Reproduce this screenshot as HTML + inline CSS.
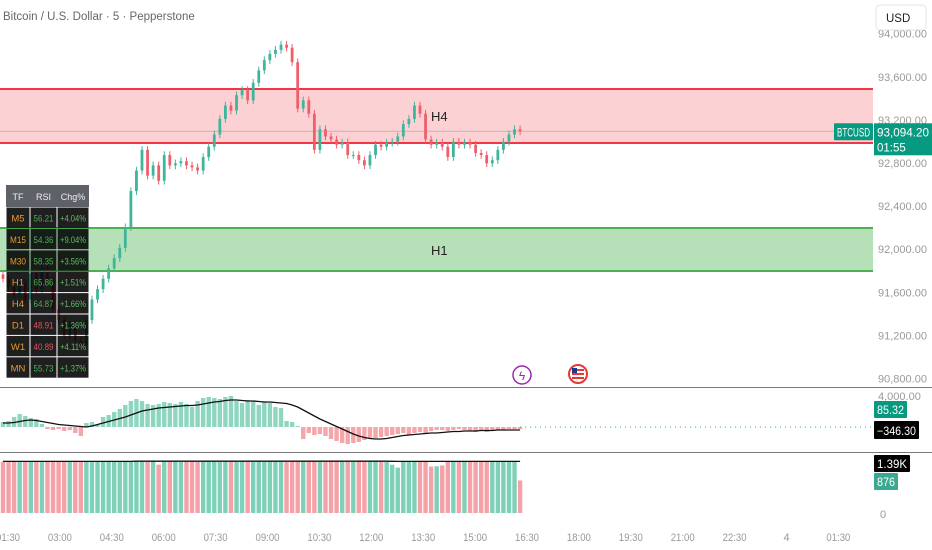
<!DOCTYPE html>
<html><head><meta charset="utf-8">
<style>
html,body{margin:0;padding:0;background:#fff;}
body{width:932px;height:550px;overflow:hidden;position:relative;font-family:"Liberation Sans",sans-serif;}
svg{position:absolute;left:0;top:0;}
</style></head>
<body>
<svg id="chart" width="932" height="550">
  <rect x="0" y="0" width="932" height="550" fill="#ffffff"/>
  <g id="zones"></g>
  <g id="candles"></g>
  <g id="macd"></g>
  <g id="volume"></g>
  <g id="axes"></g>
</svg>
<script>
const closes=[91726,91649,91582,91687,91534,91774,91630,91822,91726,91439,
91343,91199,91295,91151,91113,91343,91534,91630,91726,91822,
91917,92013,92204,92539,92730,92922,92683,92778,92635,92874,
92778,92797,92817,92778,92759,92730,92855,92951,93065,93209,
93333,93286,93429,93477,93381,93544,93659,93754,93812,93850,
93898,93869,93735,93305,93381,93257,92922,93113,93046,93018,
92970,92989,92874,92874,92826,92778,92874,92970,92951,92989,
92998,93046,93161,93209,93333,93257,93018,92970,92989,92951,
92855,92998,92970,92989,92970,92893,92874,92797,92826,92922,
92998,93065,93113,93094];
const macdHist=[50,60,100,130,110,90,80,30,-20,-30,
-20,-40,-30,-60,-90,40,50,20,100,120,
150,180,220,260,280,260,230,220,230,250,
240,230,250,230,200,260,290,300,290,280,
300,310,260,240,270,260,220,250,240,200,
190,60,50,10,-120,-60,-80,-70,-90,-120,
-140,-160,-170,-160,-150,-130,-120,-110,-100,-90,
-80,-70,-60,-80,-60,-50,-70,-40,-30,-30,
-40,-30,-20,-30,-40,-50,-40,-50,-40,-30,
-30,-20,-20,-20];
const macdSignal=[40,40,45,55,65,70,65,55,45,35,
25,20,15,10,5,0,10,25,40,55,
70,85,100,120,140,160,170,180,190,195,
200,205,210,215,215,220,230,240,250,255,
265,270,270,265,260,260,255,250,250,245,
240,235,220,200,170,140,110,80,55,30,
5,-20,-45,-70,-90,-105,-115,-120,-120,-115,
-105,-95,-85,-80,-75,-70,-65,-60,-60,-55,
-50,-45,-45,-40,-40,-40,-35,-35,-35,-30,
-30,-30,-30,-30];
const volumes=[1380,1370,1390,1385,1375,1390,1380,1370,1390,1385,
1380,1390,1375,1385,1390,1380,1370,1385,1390,1380,
1385,1390,1380,1375,1390,1385,1380,1390,1300,1385,
1380,1390,1375,1385,1390,1380,1385,1390,1380,1375,
1390,1385,1380,1390,1385,1375,1390,1380,1385,1390,
1380,1375,1385,1390,1380,1385,1390,1380,1375,1385,
1390,1380,1385,1375,1390,1380,1385,1390,1380,1375,
1300,1220,1380,1385,1390,1380,1380,1250,1260,1280,
1385,1390,1380,1375,1385,1390,1380,1385,1390,1380,
1385,1390,1380,876];
const volMA=[1390,1390,1390,1390,1390,1390,1390,1390,1390,1390,
1390,1390,1390,1390,1390,1390,1390,1390,1390,1390,
1390,1390,1390,1390,1395,1395,1395,1395,1395,1395,
1395,1395,1395,1395,1395,1395,1395,1395,1395,1395,
1395,1395,1395,1395,1395,1395,1395,1395,1395,1395,
1395,1395,1395,1395,1395,1395,1395,1395,1395,1395,
1395,1395,1395,1395,1395,1395,1395,1395,1395,1395,
1392,1390,1390,1390,1390,1390,1390,1390,1390,1390,
1390,1390,1390,1390,1390,1390,1390,1390,1390,1390,
1390,1390,1390,1390];
const priceTicks=[94000,93600,93200,92800,92400,92000,91600,91200,90800];
const timeLabels=["01:30","03:00","04:30","06:00","07:30","09:00","10:30","12:00","13:30","15:00","16:30","18:00","19:30","21:00","22:30","4","01:30"];
const zoneRed=[92986,93487];
const zoneGreen=[91798,92197];
const tfRows=["M5","M15","M30","H1","H4","D1","W1","MN"];
const rsiVals=["56.21","54.36","58.35","65.86","64.87","48.91","40.89","55.73"];
const chgVals=["+4.04%","+9.04%","+3.56%","+1.51%","+1.66%","+1.36%","+4.11%","+1.37%"];

const NS="http://www.w3.org/2000/svg";
function mk(tag,attrs,parent){const e=document.createElementNS(NS,tag);for(const k in attrs)e.setAttribute(k,attrs[k]);parent.appendChild(e);return e;}
const yP=p=>163-(p-92800)*0.1078;
const xB=i=>3+i*5.56;
const xT=i=>8+i*51.9;
const yM=v=>427-v*0.1;
const yV=v=>513-v*(52/1400);
const PLOT_R=873;

// zones
const zg=document.getElementById('zones');
let r=mk('rect',{x:0,y:yP(zoneRed[1]),width:PLOT_R,height:yP(zoneRed[0])-yP(zoneRed[1]),fill:'#fbc9cd',opacity:0.85},zg);


[zoneRed[0],zoneRed[1]].forEach(p=>{const l=mk('line',{x1:0,x2:PLOT_R,y1:yP(p),y2:yP(p),stroke:'#f23645','stroke-width':2},zg);

});
r=mk('rect',{x:0,y:yP(zoneGreen[1]),width:PLOT_R,height:yP(zoneGreen[0])-yP(zoneGreen[1]),fill:'#b5e0b8'},zg);


[zoneGreen[0],zoneGreen[1]].forEach(p=>{const l=mk('line',{x1:0,x2:PLOT_R,y1:yP(p),y2:yP(p),stroke:'#4caf50','stroke-width':2},zg);

});
let t=mk('text',{x:431,y:121,'font-size':13,fill:'#222'},zg);t.textContent='H4';


t=mk('text',{x:431,y:255,'font-size':13,fill:'#222'},zg);t.textContent='H1';


const last=closes[closes.length-1];
let pl=mk('line',{x1:0,x2:834,y1:yP(last),y2:yP(last),stroke:'#aaa','stroke-width':1,opacity:0.7},zg);



// candles
const cg=document.getElementById('candles');
closes.forEach((c,i)=>{
  const o=i?closes[i-1]:c+40;
  const up=c>=o;
  const col=up?'#3fb59b':'#ee5f6c';
  const hi=Math.max(o,c)+35, lo=Math.min(o,c)-35;
  const x=xB(i);
  const g=mk('g',{},cg);
  
  
  mk('line',{x1:x,x2:x,y1:yP(hi),y2:yP(lo),stroke:col,'stroke-width':1},g);
  const y1=yP(Math.max(o,c)),y2=yP(Math.min(o,c));
  mk('rect',{x:x-1.4,y:y1,width:2.8,height:Math.max(1,y2-y1),fill:col},g);
});

// MACD pane
const mg=document.getElementById('macd');
let sep=mk('line',{x1:0,x2:932,y1:387.5,y2:387.5,stroke:'#777','stroke-width':1},mg);


macdHist.forEach((v,i)=>{
  const b=mk('rect',{x:xB(i)-2.2,y:Math.min(yM(v),yM(0)),width:4.4,height:Math.max(1,Math.abs(yM(v)-yM(0))),fill:v>=0?'#8fd6c1':'#f5a6aa'},mg);
  
  
});
let zl=mk('line',{x1:xB(macdHist.length-1),x2:PLOT_R,y1:yM(0),y2:yM(0),stroke:'#26a69a','stroke-width':1,'stroke-dasharray':'1 4'},mg);


let sp=mk('polyline',{points:macdSignal.map((v,i)=>xB(i)+','+yM(v)).join(' '),fill:'none',stroke:'#111','stroke-width':1.3},mg);



// Volume pane
const vg=document.getElementById('volume');
sep=mk('line',{x1:0,x2:932,y1:452.5,y2:452.5,stroke:'#777','stroke-width':1},vg);


volumes.forEach((v,i)=>{
  const o=i?closes[i-1]:closes[0]+40;
  const b=mk('rect',{x:xB(i)-2.2,y:yV(v),width:4.4,height:yV(0)-yV(v),fill:closes[i]>=o?'#7fd0b8':'#f4a1a7'},vg);
  
  
});
let vm=mk('polyline',{points:volMA.map((v,i)=>xB(i)+','+yV(v)).join(' '),fill:'none',stroke:'#111','stroke-width':1.3},vg);



// axes
const ag=document.getElementById('axes');
priceTicks.forEach(p=>{
  const tx=mk('text',{x:878,y:yP(p)+4,'font-size':11,fill:'#999'},ag);
  tx.textContent=p.toLocaleString('en-US',{minimumFractionDigits:2});
  
  
});
timeLabels.forEach((s,i)=>{
  const tx=mk('text',{x:xT(i),y:541,'font-size':11,fill:'#999','text-anchor':'middle'},ag);
  tx.textContent=s;
  if(s.length>1){tx.setAttribute('textLength',24);tx.setAttribute('lengthAdjust','spacingAndGlyphs');}
  
  
});
t=mk('text',{x:878,y:400,'font-size':11,fill:'#999'},ag);t.textContent='4,000.00';


t=mk('text',{x:880,y:518,'font-size':11,fill:'#999'},ag);t.textContent='0';



function tag(x,y,w,h,bg,txt,name){
  const g=mk('g',{},ag);
  
  
  mk('rect',{x:x,y:y,width:w,height:h,fill:bg,rx:1},g);
  const tx=mk('text',{x:x+3,y:y+h-4,'font-size':11.5,fill:'#fff',textLength:w-6,lengthAdjust:'spacingAndGlyphs'},g);tx.textContent=txt;
  return g;
}
// USD button
const ub=mk('g',{},ag);


mk('rect',{x:876,y:5,width:50,height:25,rx:4,fill:'#fff',stroke:'#e3e3e3'},ub);
t=mk('text',{x:886,y:22,'font-size':11.5,fill:'#222'},ub);t.textContent='USD';
// price tags
const yl=yP(last);
tag(834,yl-8,39,17,'#089981','BTCUSD','symbol-tag');
const pg=mk('g',{},ag);


mk('rect',{x:874,y:yl-8,width:58,height:32,fill:'#089981'},pg);
t=mk('text',{x:877,y:yl+5,'font-size':11.5,fill:'#fff',textLength:52,lengthAdjust:'spacingAndGlyphs'},pg);t.textContent='93,094.20';
t=mk('text',{x:877,y:yl+20,'font-size':11.5,fill:'#fff'},pg);t.textContent='01:55';
tag(874,401,33,17,'#089981','85.32','macd-value-tag');
tag(874,421,45,18,'#000','\u2212346.30','signal-value-tag');
tag(874,455,36,17,'#000','1.39K','volume-ma-tag');
tag(874,473,24,17,'#3aa98f','876','volume-value-tag');

// title
t=mk('text',{x:3,y:20,'font-size':11.5,fill:'#666'},ag);t.textContent='Bitcoin / U.S. Dollar \u00b7 5 \u00b7 Pepperstone';



// event icons
let ic=mk('g',{},ag);


mk('circle',{cx:522,cy:375,r:9,fill:'#fff',stroke:'#9c27b0','stroke-width':1.5},ic);
t=mk('text',{x:522,y:380,'font-size':12,fill:'#9c27b0','text-anchor':'middle'},ic);t.textContent='\u03df';
ic=mk('g',{},ag);


mk('circle',{cx:578,cy:374,r:9,fill:'#fff',stroke:'#e53935','stroke-width':2},ic);
mk('rect',{x:572,y:369,width:12,height:2,fill:'#e53935'},ic);
mk('rect',{x:572,y:373,width:12,height:2,fill:'#e53935'},ic);
mk('rect',{x:572,y:377,width:12,height:2,fill:'#e53935'},ic);
mk('rect',{x:572,y:368,width:5,height:5,fill:'#1a3a8f'},ic);

// table
const tb=mk('g',{},ag);


const cols=[6,30,57,89];
mk('rect',{x:6,y:185,width:83,height:22,fill:'#5f6168'},tb);
["TF","RSI","Chg%"].forEach((h,j)=>{const tx=mk('text',{x:(cols[j]+cols[j+1])/2,y:200,'font-size':9,fill:'#eee','text-anchor':'middle'},tb);tx.textContent=h;});
const rh=21.4;
tfRows.forEach((tf,k)=>{
  const y=207+k*rh;
  const row=mk('g',{},tb);
  
  
  for(let j=0;j<3;j++) mk('rect',{x:cols[j]+0.5,y:y+0.5,width:cols[j+1]-cols[j]-1,height:rh-1,fill:'#000',opacity:0.88},row);
  const bad=parseFloat(rsiVals[k])<50;
  let tx=mk('text',{x:(cols[0]+cols[1])/2,y:y+14.5,'font-size':9.5,fill:'#e89a2c','text-anchor':'middle'},row);tx.textContent=tf;
  if(tf.length>2){tx.setAttribute('textLength',16);tx.setAttribute('lengthAdjust','spacingAndGlyphs');}
  tx=mk('text',{x:(cols[1]+cols[2])/2,y:y+14.5,'font-size':9.5,fill:bad?'#e0555e':'#4caf50','text-anchor':'middle',textLength:20,lengthAdjust:'spacingAndGlyphs'},row);tx.textContent=rsiVals[k];
  tx=mk('text',{x:(cols[2]+cols[3])/2,y:y+14.5,'font-size':9.5,fill:'#5cc05f','text-anchor':'middle',textLength:26,lengthAdjust:'spacingAndGlyphs'},row);tx.textContent=chgVals[k];
});
</script>
</body></html>
